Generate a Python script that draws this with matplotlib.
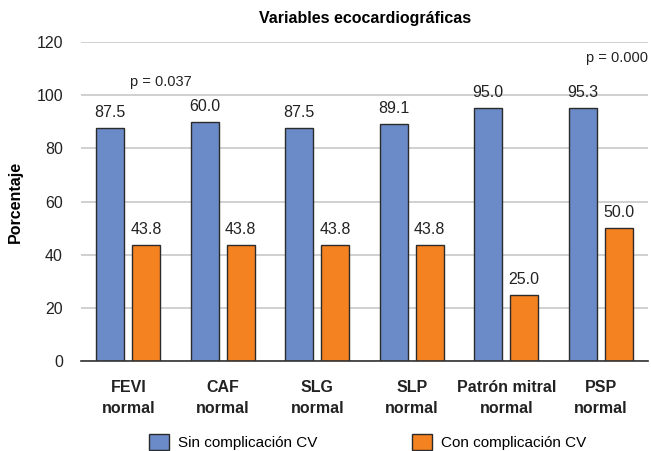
import matplotlib
matplotlib.use("Agg")
import matplotlib.pyplot as plt
import numpy as np

categorias = ["FEVI\nnormal", "CAF\nnormal", "SLG\nnormal", "SLP\nnormal",
              "Patrón mitral\nnormal", "PSP\nnormal"]
sin_cv = [87.5, 90.0, 87.5, 89.1, 95.0, 95.3]
con_cv = [43.8, 43.8, 43.8, 43.8, 25.0, 50.0]
# etiquetas tal como aparecen en la figura original
etiq_sin = ["87.5", "60.0", "87.5", "89.1", "95.0", "95.3"]
etiq_con = ["43.8", "43.8", "43.8", "43.8", "25.0", "50.0"]
yticks = [0, 20, 40, 60, 80, 100, 120]

plt.rcParams.update({
    "font.family": ["Liberation Sans", "DejaVu Sans"],
    "font.size": 11,
    "figure.facecolor": "white",
    "axes.facecolor": "white",
})

AZUL = "#6a8ac8"
NARANJA = "#f58220"
BORDE = "#2b2b2b"

fig = plt.figure(figsize=(6.51, 4.51), dpi=100)
ax = fig.add_axes([81 / 651, 1 - 361 / 451, 567 / 651, 319 / 451])

x = np.arange(len(categorias))
w = 0.296
off = 0.19
b1 = ax.bar(x - off, sin_cv, w, color=AZUL, edgecolor=BORDE, linewidth=1.0,
            label="Sin complicación CV", zorder=3)
b2 = ax.bar(x + off, con_cv, w, color=NARANJA, edgecolor=BORDE, linewidth=1.0,
            label="Con complicación CV", zorder=3)

for rect, t in zip(b1, etiq_sin):
    ax.text(rect.get_x() + rect.get_width() / 2, rect.get_height() + 3, t,
            ha="center", va="bottom", fontsize=11.5, color="#222222")
for rect, t in zip(b2, etiq_con):
    ax.text(rect.get_x() + rect.get_width() / 2, rect.get_height() + 3, t,
            ha="center", va="bottom", fontsize=11.5, color="#222222")

ax.text(0.34, 105, "p = 0.037", ha="center", va="center", fontsize=10.5, color="#222222")
ax.text(5.5, 114, "p = 0.000", ha="right", va="center", fontsize=10.5, color="#222222")

ax.set_xlim(-0.5, len(categorias) - 0.5)
ax.set_ylim(0, 120)
ax.set_yticks(yticks)
ax.set_xticks(x)
ax.set_xticklabels(categorias, fontweight="bold", fontsize=11.5, linespacing=1.5)
ax.tick_params(axis="both", length=0, colors="#222222")
ax.tick_params(axis="y", labelsize=11.5)
ax.tick_params(axis="x", pad=14)
ax.tick_params(axis="y", pad=13)
ax.grid(axis="y", color="#c8c8c8", linewidth=1.2, zorder=0)
for s in ["top", "right", "left"]:
    ax.spines[s].set_visible(False)
ax.spines["bottom"].set_color("#333333")
ax.spines["bottom"].set_linewidth(1.2)
ax.spines["bottom"].set_zorder(4)

ax.set_ylabel("Porcentaje", fontweight="bold", fontsize=11.5, labelpad=10)
fig.text(365 / 651, 1 - 18 / 451, "Variables ecocardiográficas", ha="center", va="center",
         fontweight="bold", fontsize=11.5)

fig.legend(handles=[b1, b2], loc="center", bbox_to_anchor=(368 / 651, 1 - 442 / 451), ncol=2,
           frameon=False, fontsize=11, columnspacing=6.2, handlelength=1.3, handleheight=1.3,
           handletextpad=0.6)

fig.savefig("out.png", dpi=100)
